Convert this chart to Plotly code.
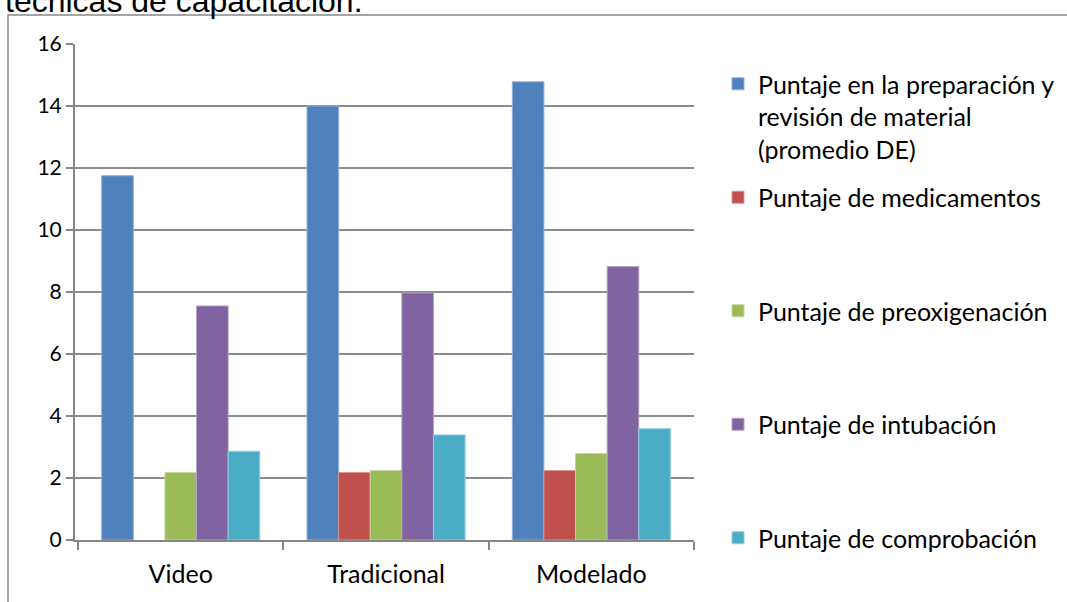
import plotly.graph_objects as go

categories = ["Video", "Tradicional", "Modelado"]
series_names = [
    "Puntaje en la preparación y<br>revisión de material<br>(promedio DE)",
    "Puntaje de medicamentos<br> <br> ",
    "Puntaje de preoxigenación<br> <br> ",
    "Puntaje de intubación<br> <br> ",
    "Puntaje de comprobación",
]
preparacion = [11.75, 14.0, 14.78]
medicamentos = [None, 2.18, 2.24]
preoxigenacion = [2.18, 2.24, 2.79]
intubacion = [7.55, 7.97, 8.82]
comprobacion = [2.86, 3.39, 3.59]
colors = ["#4F81BD", "#C0504D", "#9BBB59", "#8064A2", "#4BACC6"]
edge_colors = ["#8EB0DA", "#D99694", "#C3D69B", "#B3A2C7", "#93CDDD"]
title_text = "técnicas de capacitación."

W, H = 1067, 602
L, R, T, B = 75, 694, 44, 540  # plot area in pixels

def px_x(p):
    return (p - L) / (R - L)

def px_y(p):
    return (B - p) / (B - T)

FONT = "Lato"
fig = go.Figure()
all_values = [preparacion, medicamentos, preoxigenacion, intubacion, comprobacion]
for i, vals in enumerate(all_values):
    fig.add_trace(go.Bar(
        x=categories, y=vals, name=series_names[i],
        legendgroup=f"g{i}",
        marker=dict(color=colors[i], line=dict(color=edge_colors[i], width=1)),
    ))

fig.update_layout(
    width=W, height=H,
    margin=dict(l=L, r=W - R, t=T, b=H - B, pad=0, autoexpand=False),
    paper_bgcolor="white", plot_bgcolor="white",
    barmode="group", bargap=0.23, bargroupgap=0,
    font=dict(family=FONT, size=25, color="#000000"),
    showlegend=True,
    legend=dict(
        x=px_x(718), y=px_y(61), xanchor="left", yanchor="top",
        valign="top", tracegroupgap=13, itemwidth=30, maxheight=600,
        font=dict(family=FONT, size=25, color="#000000"),
        bgcolor="rgba(0,0,0,0)",
    ),
    xaxis=dict(
        type="category", range=[-0.515, 2.5], showgrid=False, showline=True,
        linecolor="#868686", linewidth=2,
        ticks="outside", tickson="boundaries", ticklen=8, tickcolor="#868686", tickwidth=2,
        ticklabelstandoff=11, tickfont=dict(family=FONT, size=25, color="#000000"),
        zeroline=False,
    ),
    yaxis=dict(
        range=[0, 16], dtick=2, tick0=0, showgrid=True, gridcolor="#8C8C8C", gridwidth=1.5,
        showline=True, linecolor="#868686", linewidth=2,
        ticks="outside", ticklen=7, tickcolor="#868686", tickwidth=2,
        ticklabelstandoff=0, tickfont=dict(family=FONT, size=21, color="#000000"),
        zeroline=False,
    ),
    shapes=[dict(
        type="rect", xref="paper", yref="paper",
        x0=px_x(8), x1=px_x(1080), y0=px_y(15), y1=px_y(620),
        line=dict(color="#888888", width=1.5), fillcolor="rgba(0,0,0,0)", layer="below",
    )],
    annotations=[dict(
        text=title_text, xref="paper", yref="paper",
        x=px_x(3), y=px_y(21), xanchor="left", yanchor="bottom",
        showarrow=False, font=dict(family="Liberation Sans", size=32, color="#000000"),
    )],
)

fig.write_html("out.html")
